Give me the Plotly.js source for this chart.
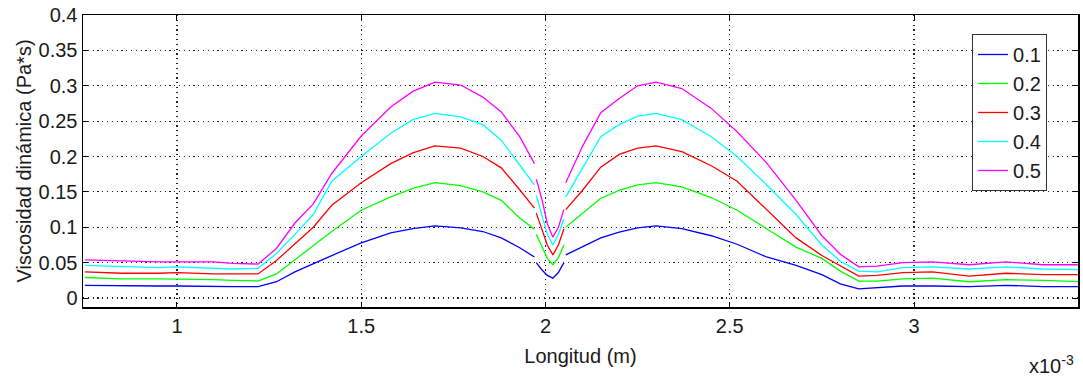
<!DOCTYPE html>
<html>
<head>
<meta charset="utf-8">
<script src="https://cdn.plot.ly/plotly-3.0.1.min.js"></script>
<style>html,body{margin:0;padding:0;background:#fff;}#chart{width:1083px;height:379px;}</style>
</head>
<body>
<div id="chart"></div>
<script>
// x positions (in units of 1e-3 m); pieces: left, dip, right
const xLeft  = [0.75, 0.85, 0.95, 1.0, 1.1, 1.15, 1.22, 1.27, 1.32, 1.37, 1.42, 1.5, 1.58, 1.64, 1.70, 1.77, 1.83, 1.88, 1.93, 1.97];
const xDip   = [1.975, 1.99, 2.005, 2.02, 2.035, 2.05];
const xRight = [2.055, 2.1, 2.15, 2.2, 2.25, 2.3, 2.37, 2.45, 2.52, 2.6, 2.68, 2.75, 2.8, 2.85, 2.9, 2.97, 3.05, 3.15, 3.25, 3.35, 3.45];

const seriesNames = ["0.1", "0.2", "0.3", "0.4", "0.5"];

const y01Left  = [0.018, 0.017, 0.017, 0.017, 0.016, 0.016, 0.016, 0.023, 0.037, 0.049, 0.060, 0.078, 0.092, 0.098, 0.102, 0.099, 0.094, 0.085, 0.071, 0.058];
const y01Dip   = [0.050, 0.040, 0.032, 0.028, 0.036, 0.050];
const y01Right = [0.061, 0.072, 0.085, 0.093, 0.099, 0.102, 0.098, 0.088, 0.076, 0.058, 0.046, 0.033, 0.020, 0.013, 0.015, 0.017, 0.017, 0.016, 0.018, 0.016, 0.016];

const y02Left  = [0.029, 0.027, 0.027, 0.027, 0.026, 0.025, 0.024, 0.034, 0.054, 0.075, 0.094, 0.124, 0.143, 0.155, 0.163, 0.159, 0.150, 0.138, 0.113, 0.097];
const y02Dip   = [0.090, 0.074, 0.056, 0.047, 0.057, 0.075];
const y02Right = [0.100, 0.120, 0.141, 0.152, 0.160, 0.163, 0.157, 0.142, 0.124, 0.098, 0.072, 0.056, 0.038, 0.024, 0.024, 0.027, 0.028, 0.023, 0.026, 0.025, 0.023];

const y03Left  = [0.037, 0.035, 0.035, 0.036, 0.034, 0.034, 0.034, 0.053, 0.076, 0.100, 0.131, 0.163, 0.190, 0.205, 0.215, 0.212, 0.200, 0.184, 0.153, 0.127];
const y03Dip   = [0.120, 0.098, 0.075, 0.061, 0.075, 0.098];
const y03Right = [0.125, 0.152, 0.185, 0.203, 0.212, 0.215, 0.207, 0.187, 0.165, 0.125, 0.085, 0.060, 0.045, 0.031, 0.032, 0.036, 0.037, 0.031, 0.035, 0.033, 0.033];

const y04Left  = [0.046, 0.044, 0.043, 0.044, 0.042, 0.041, 0.042, 0.063, 0.090, 0.118, 0.165, 0.200, 0.233, 0.252, 0.261, 0.256, 0.245, 0.223, 0.188, 0.160];
const y04Dip   = [0.145, 0.118, 0.090, 0.075, 0.090, 0.112];
const y04Right = [0.143, 0.184, 0.228, 0.245, 0.257, 0.261, 0.252, 0.228, 0.200, 0.160, 0.118, 0.075, 0.052, 0.038, 0.037, 0.043, 0.044, 0.041, 0.044, 0.041, 0.040];

const y05Left  = [0.054, 0.052, 0.051, 0.051, 0.051, 0.049, 0.048, 0.070, 0.106, 0.133, 0.176, 0.229, 0.270, 0.292, 0.305, 0.301, 0.284, 0.263, 0.228, 0.190];
const y05Dip   = [0.168, 0.140, 0.105, 0.086, 0.100, 0.125];
const y05Right = [0.163, 0.214, 0.262, 0.282, 0.300, 0.305, 0.296, 0.268, 0.235, 0.191, 0.138, 0.088, 0.062, 0.044, 0.045, 0.050, 0.051, 0.047, 0.051, 0.047, 0.047];

const xTicks = [1, 1.5, 2, 2.5, 3];
const xTickText = ["1", "1.5", "2", "2.5", "3"];
const yTicks = [0, 0.05, 0.1, 0.15, 0.2, 0.25, 0.3, 0.35, 0.4];
const yTickText = ["0", "0.05", "0.1", "0.15", "0.2", "0.25", "0.3", "0.35", "0.4"];

const colors = ["#0000ff", "#00ff00", "#ff0000", "#00ffff", "#ff00ff"];

function join(a, b, c) { return a.concat([null], b, [null], c); }
const xAll = join(xLeft, xDip, xRight);
const yAll = [
  join(y01Left, y01Dip, y01Right),
  join(y02Left, y02Dip, y02Right),
  join(y03Left, y03Dip, y03Right),
  join(y04Left, y04Dip, y04Right),
  join(y05Left, y05Dip, y05Right)
];

const font = {family: "Liberation Sans, Arial, sans-serif", size: 20, color: "#1a1a1a"};

const traces = yAll.map((y, i) => ({
  x: xAll, y: y, type: "scatter", mode: "lines", name: seriesNames[i],
  connectgaps: false,
  line: {color: colors[i], width: 1.3}
}));

const axisCommon = {
  showline: true, linecolor: "#000", linewidth: 1.5, mirror: "ticks",
  ticks: "inside", ticklen: 5, tickcolor: "#000",
  showgrid: true, gridcolor: "#222", gridwidth: 1.2, griddash: "1.2px,3.6px",
  zeroline: false, tickfont: font
};

const layout = {
  width: 1083, height: 379,
  margin: {l: 83, r: 5, t: 15, b: 72},
  paper_bgcolor: "#fff", plot_bgcolor: "#fff",
  font: font,
  showlegend: true,
  legend: {
    x: 0.8935, y: 0.935, xanchor: "left", yanchor: "top",
    bordercolor: "#333", borderwidth: 1, bgcolor: "#fff",
    font: font, tracegroupgap: 0
  },
  xaxis: Object.assign({}, axisCommon, {
    range: [0.745, 3.445], tickmode: "array", tickvals: xTicks, ticktext: xTickText,
    title: {text: "Longitud (m)", font: font, standoff: 13}
  }),
  yaxis: Object.assign({}, axisCommon, {
    range: [-0.0127, 0.4], tickmode: "array", tickvals: yTicks, ticktext: yTickText,
    title: {text: "Viscosidad dinámica (Pa*s)", font: font, standoff: 1}
  }),
  annotations: [{
    text: "x10<sup>-3</sup>", xref: "paper", yref: "paper",
    x: 0.998, y: -0.245, xanchor: "right", yanchor: "bottom", showarrow: false, font: font
  }]
};

Plotly.newPlot("chart", traces, layout, {displayModeBar: false, staticPlot: true});
</script>
</body>
</html>
